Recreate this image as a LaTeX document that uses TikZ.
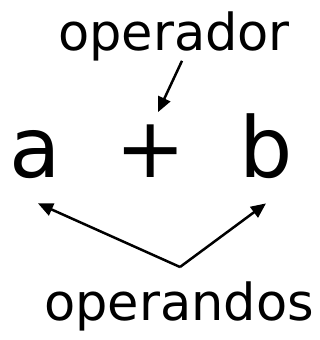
\documentclass[tikz,border=0pt]{standalone}
\usepackage{fontspec}
\setmainfont{DejaVu Sans}
\usetikzlibrary{positioning,arrows.meta}

\begin{document}
\begin{tikzpicture}[
  x=1pt, y=-1pt,
  lbl/.style={inner sep=0pt, anchor=base, font=\fontsize{51}{60}\selectfont},
  big/.style={inner sep=0pt, anchor=base, font=\fontsize{84}{100}\selectfont},
  arr/.style={-{Triangle[length=15pt,width=13pt]}, line width=2.5pt}
]
\useasboundingbox (0,0) rectangle (320,340);
\node[lbl] (op) at (174,50) {operador};
\node[big] (a) at (35,177) {a};
\node[big] (plus) at (151,177) {+};
\node[big] (b) at (266,177) {b};
\node[lbl] (opnd) at (179,320) {operandos};
\coordinate (apex) at (180,267);
\draw[arr] ([xshift=8pt]op.south) -- ([shift={(7pt,12pt)}]plus.north);
\draw[arr] (apex) -- ([shift={(3pt,-25pt)}]a.south);
\draw[arr] (apex) -- ([yshift=-25pt]b.south);
\end{tikzpicture}
\end{document}
